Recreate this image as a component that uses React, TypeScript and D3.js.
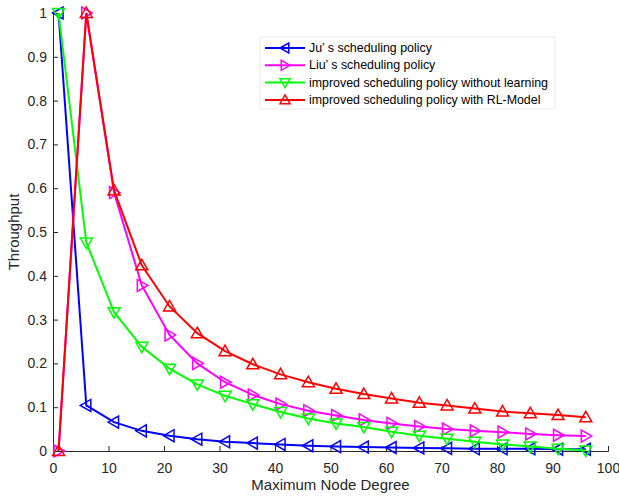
import React, { useEffect, useRef } from "react";
import * as d3 from "d3";

const degrees = [1, 6, 11, 16, 21, 26, 31, 36, 41, 46, 51, 56, 61, 66, 71, 76, 81, 86, 91, 96];

const juValues = [1.0, 0.104, 0.066, 0.046, 0.035, 0.027, 0.021, 0.018, 0.015, 0.012, 0.010, 0.009, 0.008, 0.007, 0.006, 0.005, 0.005, 0.005, 0.004, 0.004];
const liuValues = [0, 1.0, 0.59, 0.378, 0.265, 0.2, 0.157, 0.128, 0.107, 0.092, 0.081, 0.071, 0.063, 0.056, 0.05, 0.046, 0.043, 0.039, 0.036, 0.034];
const noLearnValues = [1.0, 0.476, 0.317, 0.238, 0.188, 0.152, 0.126, 0.107, 0.089, 0.074, 0.063, 0.055, 0.044, 0.035, 0.028, 0.021, 0.015, 0.01, 0.005, 0.001];
const rlValues = [0, 1.0, 0.595, 0.424, 0.33, 0.269, 0.228, 0.198, 0.175, 0.157, 0.142, 0.13, 0.12, 0.11, 0.104, 0.097, 0.09, 0.086, 0.082, 0.077];

const seriesNames = [
  "Ju’ s scheduling policy",
  "Liu’ s scheduling policy",
  "improved scheduling policy without learning",
  "improved scheduling policy with RL-Model",
];
const seriesColors = ["#0000ff", "#ff00ff", "#00ff00", "#ff0000"];
const seriesMarkers = ["left", "right", "down", "up"];

const xTicks = [0, 10, 20, 30, 40, 50, 60, 70, 80, 90, 100];
const yTicks = [0, 0.1, 0.2, 0.3, 0.4, 0.5, 0.6, 0.7, 0.8, 0.9, 1];

// triangle path centered on 0,0
const triangle = (dir: string, r: number) => {
  const pts: Record<string, number[][]> = {
    up: [[0, -r], [r, r * 0.75], [-r, r * 0.75]],
    down: [[0, r], [r, -r * 0.75], [-r, -r * 0.75]],
    left: [[-r, 0], [r * 0.75, -r], [r * 0.75, r]],
    right: [[r, 0], [-r * 0.75, -r], [-r * 0.75, r]],
  };
  return "M" + pts[dir].map((p) => p.join(",")).join("L") + "Z";
};

const App = () => {
  const ref = useRef<SVGSVGElement>(null);

  useEffect(() => {
    const w = 619,
      h = 498;
    const margin = { left: 53, right: 11, top: 13, bottom: 47 };

    const svg = d3.select(ref.current);
    svg.selectAll("*").remove();

    const x = d3.scaleLinear().domain([0, 100]).range([margin.left, w - margin.right]);
    const y = d3.scaleLinear().domain([0, 1]).range([h - margin.bottom, margin.top]);

    const font = "Arial, 'Liberation Sans', sans-serif";
    const axisColor = "#262626";

    // x axis
    const gx = svg
      .append("g")
      .attr("transform", `translate(0, ${y(0)})`)
      .call(d3.axisBottom(x).tickValues(xTicks).tickSize(-5).tickPadding(12).tickFormat(d3.format("d")));
    gx.select(".domain").attr("stroke", axisColor);
    gx.selectAll("line").attr("stroke", axisColor);
    gx.selectAll("text").attr("fill", axisColor).style("font-size", "14px").style("font-family", font);

    // y axis
    const gy = svg
      .append("g")
      .attr("transform", `translate(${x(0)}, 0)`)
      .call(d3.axisLeft(y).tickValues(yTicks).tickSize(-5).tickPadding(6).tickFormat((d) => d3.format("")(+(+d).toFixed(1))));
    gy.select(".domain").attr("stroke", axisColor);
    gy.selectAll("line").attr("stroke", axisColor);
    gy.selectAll("text").attr("fill", axisColor).style("font-size", "14px").style("font-family", font);

    svg
      .append("text")
      .attr("x", x(50))
      .attr("y", h - 8)
      .attr("text-anchor", "middle")
      .attr("fill", axisColor)
      .style("font-size", "15px")
      .style("font-family", font)
      .text("Maximum Node Degree");

    svg
      .append("text")
      .attr("transform", `translate(19, ${y(0.5)}) rotate(-90)`)
      .attr("text-anchor", "middle")
      .attr("fill", axisColor)
      .style("font-size", "15px")
      .style("font-family", font)
      .text("Throughput");

    const allSeries = [juValues, liuValues, noLearnValues, rlValues];
    const line = d3
      .line<number>()
      .x((d, i) => x(degrees[i]))
      .y((d) => y(d));

    allSeries.forEach((vals, s) => {
      const g = svg.append("g");
      g.append("path")
        .attr("d", line(vals))
        .attr("fill", "none")
        .attr("stroke", seriesColors[s])
        .attr("stroke-width", 2);
      g.selectAll("path.m")
        .data(vals)
        .enter()
        .append("path")
        .attr("class", "m")
        .attr("transform", (d, i) => `translate(${x(degrees[i])}, ${y(d)})`)
        .attr("d", triangle(seriesMarkers[s], 6))
        .attr("fill", "none")
        .attr("stroke", seriesColors[s])
        .attr("stroke-width", 1.5);
    });

    // legend
    const lg = svg.append("g").attr("transform", "translate(260, 37)");
    lg.append("rect")
      .attr("width", 295)
      .attr("height", 72)
      .attr("fill", "#fff")
      .attr("stroke", "#ebebeb");
    seriesNames.forEach((name, i) => {
      const yy = 11 + i * 17.3;
      lg.append("line")
        .attr("x1", 5)
        .attr("x2", 45)
        .attr("y1", yy)
        .attr("y2", yy)
        .attr("stroke", seriesColors[i])
        .attr("stroke-width", 2);
      lg.append("path")
        .attr("transform", `translate(25, ${yy})`)
        .attr("d", triangle(seriesMarkers[i], 5))
        .attr("fill", "none")
        .attr("stroke", seriesColors[i])
        .attr("stroke-width", 1.5);
      lg.append("text")
        .attr("x", 49)
        .attr("y", yy + 4)
        .attr("fill", "#000")
        .style("font-size", "12.4px")
        .style("font-family", font)
        .text(name);
    });
  }, []);

  return (
    <div style={{ position: "fixed", left: 0, top: 0, width: 619, height: 498, background: "#fff" }}>
      <svg ref={ref} width={619} height={498} style={{ display: "block" }} />
    </div>
  );
};

export default App;
